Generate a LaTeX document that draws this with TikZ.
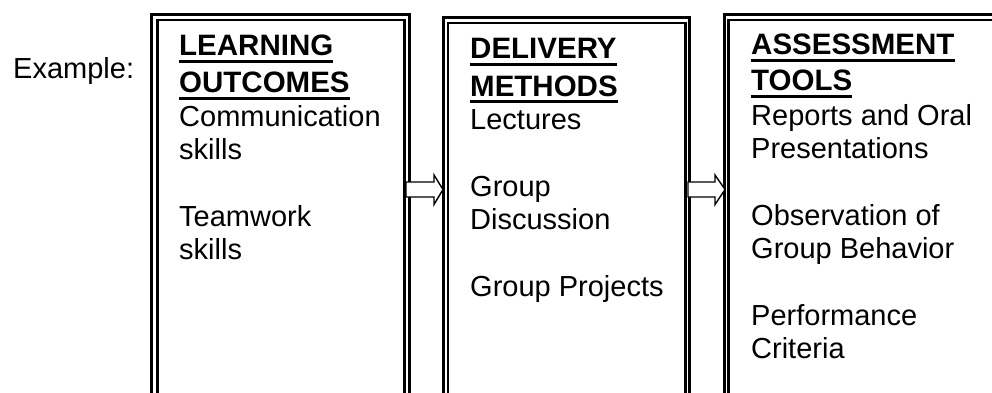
\documentclass[tikz,border=0pt]{standalone}
\usepackage{fontspec}
\setmainfont{Liberation Sans}
\begin{document}
\begin{tikzpicture}[x=1pt,y=-1pt,
  txt/.style={anchor=base west, inner sep=0pt, font=\fontsize{29}{33}\selectfont},
  hdr/.style={anchor=base west, inner sep=0pt, font=\fontsize{29.5}{33}\selectfont\bfseries},
  uline/.style={line width=3pt},
  outerline/.style={line width=3pt},
  innerline/.style={line width=2.2pt},
  blockarrow/.style={draw, fill=white, line width=1.4pt, line join=miter}]
\useasboundingbox (0,0) rectangle (992,393);
\clip (0,0) rectangle (992,393);

% frames (open at the bottom, third one runs off to the right)
\draw[outerline] (151,420) -- (151,14.5) -- (409,14.5) -- (409,420);
\draw[innerline] (157.5,420) -- (157.5,20) -- (404.5,20) -- (404.5,420);
\draw[outerline] (443,420) -- (443,17.5) -- (689.5,17.5) -- (689.5,420);
\draw[innerline] (448,420) -- (448,23) -- (685.5,23) -- (685.5,420);
\draw[outerline] (724,420) -- (724,14.5) -- (1000,14.5);
\draw[innerline] (728.5,420) -- (728.5,20) -- (1000,20);

% anchor coordinates of the frames
\coordinate (b1r) at (406,189.5);
\coordinate (b2l) at (443,189.5);
\coordinate (b2r) at (688,189.5);
\coordinate (b3l) at (725,189.5);

% block arrows
\draw[blockarrow] ([yshift=-7.5pt]b1r) -- ([xshift=-9pt,yshift=-7.5pt]b2l) -- ([xshift=-9pt,yshift=-15pt]b2l) -- (b2l)
  -- ([xshift=-9pt,yshift=14.5pt]b2l) -- ([xshift=-9pt,yshift=7.5pt]b2l) -- ([yshift=7.5pt]b1r) -- cycle;
\draw[blockarrow] ([yshift=-7.5pt]b2r) -- ([xshift=-10pt,yshift=-7.5pt]b3l) -- ([xshift=-10pt,yshift=-15pt]b3l) -- (b3l)
  -- ([xshift=-10pt,yshift=14.5pt]b3l) -- ([xshift=-10pt,yshift=7.5pt]b3l) -- ([yshift=7.5pt]b2r) -- cycle;

% label
\node[txt] (ex) at (13,79) {Example:};

% box 1
\node[hdr] (h11) at (179,56) {LEARNING};
\node[hdr] (h12) at (179,93) {OUTCOMES};
\node[txt] (t11) at (179,126) {Communication};
\node[txt] (t12) at (179,159) {skills};
\node[txt] (t13) at (179,226) {Teamwork};
\node[txt] (t14) at (179,259) {skills};

% box 2
\node[hdr] (h21) at (470,59) {DELIVERY};
\node[hdr] (h22) at (470,96) {METHODS};
\node[txt] (t21) at (470,129) {Lectures};
\node[txt] (t22) at (470,196) {Group};
\node[txt] (t23) at (470,229) {Discussion};
\node[txt] (t24) at (470,296) {Group Projects};

% box 3
\node[hdr] (h31) at (751,55) {ASSESSMENT};
\node[hdr] (h32) at (751,91) {TOOLS};
\node[txt] (t31) at (751,125) {Reports and Oral};
\node[txt] (t32) at (751,158) {Presentations};
\node[txt] (t33) at (751,225) {Observation of};
\node[txt] (t34) at (751,258) {Group Behavior};
\node[txt] (t35) at (751,325) {Performance};
\node[txt] (t36) at (751,358) {Criteria};

% underlines of the headings
\foreach \h in {h11,h12,h21,h22,h31,h32}
  \draw[uline] ([yshift=-5.5pt]\h.base west) -- ([yshift=-5.5pt]\h.base east);
\end{tikzpicture}
\end{document}
